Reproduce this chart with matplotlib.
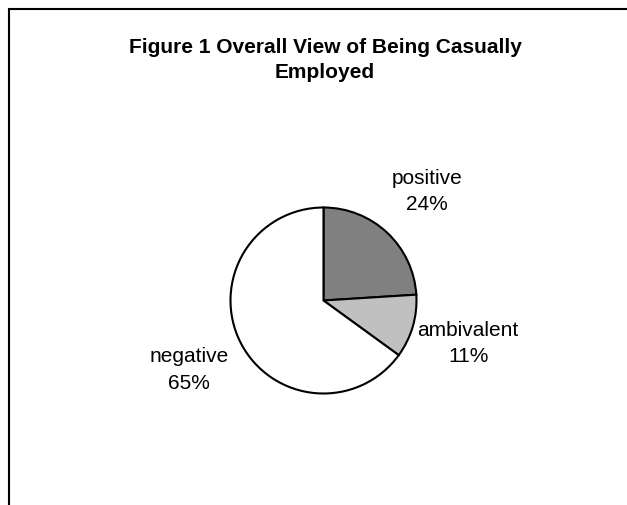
import matplotlib.pyplot as plt
from matplotlib.patches import Rectangle

categories = ['positive', 'ambivalent', 'negative']
shares = [24, 11, 65]
colors = ['#808080', '#c0c0c0', '#ffffff']

plt.rcParams['font.family'] = ['Liberation Sans', 'DejaVu Sans']

W, H = 627, 506
fig = plt.figure(figsize=(W / 100, H / 100), dpi=100)
ax = fig.add_axes([0, 0, 1, 1])
ax.set_xlim(0, W)
ax.set_ylim(0, H)
ax.set_aspect('equal')
ax.axis('off')

# chart frame (cut at right and bottom like the source)
ax.add_patch(Rectangle((8.5, -20), W + 40, H - 9.5 + 20, fill=False,
                       edgecolor='black', linewidth=1.5))

labels = [f'{c}\n{v}%' for c, v in zip(categories, shares)]
wedges, texts = ax.pie(shares, labels=labels, colors=colors,
                       startangle=90, counterclock=False,
                       center=(323.5, H - 301.5), radius=93, frame=True,
                       labeldistance=1.62,
                       wedgeprops=dict(edgecolor='black', linewidth=1.5),
                       textprops=dict(fontsize=15, linespacing=1.5))
for t in texts:
    t.set_ha('center')
    t.set_va('center')

ax.set_xlim(0, W)
ax.set_ylim(0, H)
ax.axis('off')

fig.text(325 / W, 1 - 60 / H, 'Figure 1 Overall View of Being Casually\nEmployed',
         ha='center', va='center', fontsize=15, fontweight='bold',
         linespacing=1.4)

fig.savefig('out.png', dpi=100)
